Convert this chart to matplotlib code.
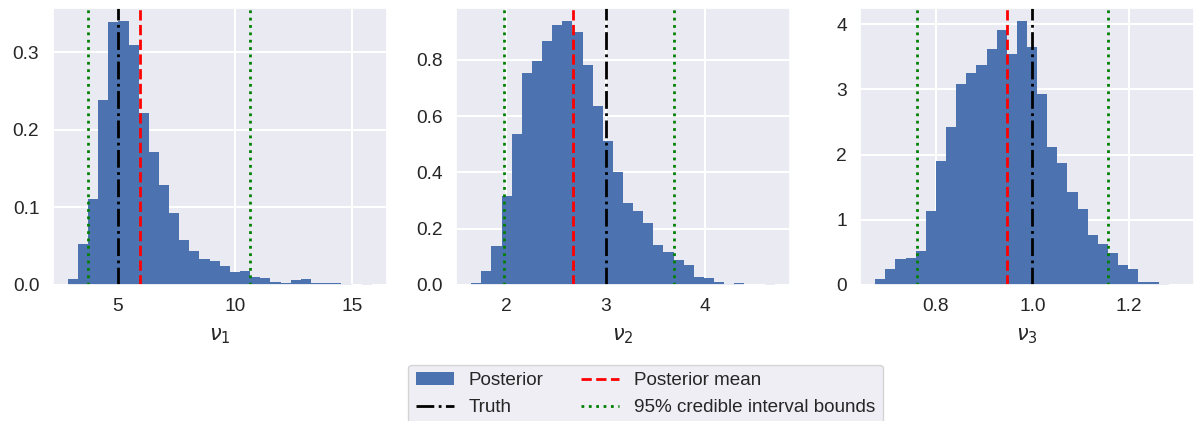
import numpy as np
import matplotlib
matplotlib.use("Agg")
import matplotlib.pyplot as plt
import seaborn as sns

# ---------------- data ----------------
param_labels = [r"$\nu_1$", r"$\nu_2$", r"$\nu_3$"]

# histogram ranges (first bin left edge, bin width) and densities
nu1_start, nu1_width = 2.86, 0.433
nu1_density = [0.0069, 0.052, 0.111, 0.238, 0.339, 0.340, 0.309, 0.221, 0.171, 0.128,
               0.093, 0.058, 0.043, 0.033, 0.030, 0.0236, 0.017, 0.018, 0.0094, 0.008,
               0.003, 0.0017, 0.0056, 0.0069, 0.0017, 0.0017, 0.0017, 0.0005, 0.0, 0.0005]

nu2_start, nu2_width = 1.648, 0.1017
nu2_density = [0.005, 0.047, 0.136, 0.317, 0.538, 0.755, 0.796, 0.867, 0.924, 0.938,
               0.899, 0.782, 0.637, 0.512, 0.402, 0.290, 0.264, 0.219, 0.140, 0.116,
               0.088, 0.069, 0.027, 0.024, 0.009, 0.001, 0.005, 0.0, 0.0, 0.001]

nu3_start, nu3_width = 0.6753, 0.0209
nu3_density = [0.08, 0.24, 0.39, 0.41, 0.52, 1.13, 1.90, 2.42, 3.08, 3.26,
               3.37, 3.63, 3.92, 3.55, 4.05, 3.65, 2.93, 2.11, 1.87, 1.43,
               1.16, 0.77, 0.62, 0.48, 0.31, 0.24, 0.036, 0.036, 0.005, 0.0]

truth = [5.0, 3.0, 1.0]
post_mean = [5.95, 2.668, 0.948]
ci_low = [3.73, 1.973, 0.7625]
ci_high = [10.65, 3.684, 1.157]

x_ticks = [[5, 10, 15], [2, 3, 4], [0.8, 1.0, 1.2]]
y_ticks = [[0.0, 0.1, 0.2, 0.3], [0.0, 0.2, 0.4, 0.6, 0.8], [0, 1, 2, 3, 4]]

legend_labels = ["Posterior", "Truth", "Posterior mean", "95% credible interval bounds"]

# ---------------- style ----------------
sns.set_theme(style="darkgrid", font_scale=1.2)
plt.rcParams["font.family"] = ["Liberation Sans", "DejaVu Sans"]
plt.rcParams["mathtext.fontset"] = "dejavusans"
plt.rcParams["grid.linewidth"] = 1.5

W, H = 1198, 421
fig = plt.figure(figsize=(W / 100, H / 100), dpi=100)

ax_boxes = [(52.5, 387), (456, 790), (860, 1194)]
top_px, bottom_px = 8, 284.7

hist_specs = [(nu1_start, nu1_width, nu1_density),
              (nu2_start, nu2_width, nu2_density),
              (nu3_start, nu3_width, nu3_density)]

blue = "#4C72B0"
handles = None
for i, (l, r) in enumerate(ax_boxes):
    ax = fig.add_axes([l / W, 1 - bottom_px / H, (r - l) / W, (bottom_px - top_px) / H])
    start, width, dens = hist_specs[i]
    n = len(dens)
    edges = start + width * np.arange(n + 1)
    centers = 0.5 * (edges[:-1] + edges[1:])
    _, _, patches = ax.hist(centers, bins=edges, weights=dens, color=blue,
                            edgecolor="none", linewidth=0, label="Posterior")
    h_truth = ax.axvline(truth[i], color="black", linestyle="-.", linewidth=2, label="Truth")
    h_mean = ax.axvline(post_mean[i], color="red", linestyle="--", linewidth=2, label="Posterior mean")
    h_ci = ax.axvline(ci_low[i], color="green", linestyle=":", linewidth=2,
                      label="95% credible interval bounds")
    ax.axvline(ci_high[i], color="green", linestyle=":", linewidth=2)
    ax.set_xticks(x_ticks[i])
    ax.set_yticks(y_ticks[i])
    if i == 2:
        ax.set_yticklabels([str(v) for v in y_ticks[i]])
    ax.set_xlabel(param_labels[i], fontsize=15, labelpad=8)
    ax.tick_params(labelsize=13.8)
    if handles is None:
        handles = [patches[0], h_truth, h_mean, h_ci]

fig.legend(handles, legend_labels, ncol=2, loc="upper left",
           bbox_to_anchor=(408.3 / W, 1 - 364.7 / H), fontsize=13.6,
           frameon=True, borderaxespad=0.0)

fig.savefig("out.png", dpi=100)
